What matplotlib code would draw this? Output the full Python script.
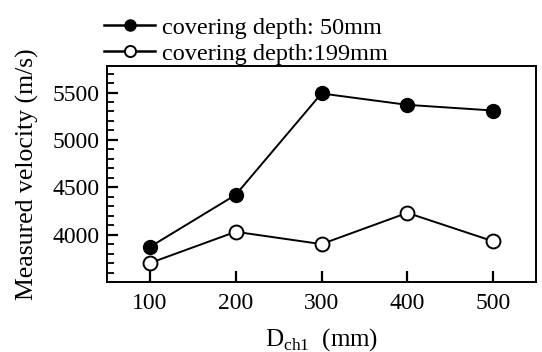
import matplotlib
matplotlib.use('Agg')
import matplotlib.pyplot as plt
from matplotlib.ticker import MultipleLocator

plt.rcParams['font.family'] = 'Liberation Serif'
plt.rcParams['mathtext.fontset'] = 'custom'
plt.rcParams['mathtext.rm'] = 'Liberation Serif'

d_ch1 = [100, 200, 300, 400, 500]
v_50mm = [3870, 4420, 5490, 5370, 5310]
v_199mm = [3700, 4030, 3900, 4230, 3930]

fig = plt.figure(figsize=(5.42, 3.52), dpi=100)
ax = fig.add_axes([107/542, 1 - 282/352, (536-107)/542, (282-66)/352])

ax.plot(d_ch1, v_50mm, '-o', color='black', mfc='black', mec='black',
        ms=10, lw=1.4, label='covering depth: 50mm')
ax.plot(d_ch1, v_199mm, '-o', color='black', mfc='white', mec='black',
        ms=10, mew=1.4, lw=1.4, label='covering depth:199mm')

ax.set_xlim(50, 550)
ax.set_ylim(3500, 5780)
ax.set_xticks(d_ch1)
ax.yaxis.set_major_locator(MultipleLocator(500))
ax.yaxis.set_minor_locator(MultipleLocator(100))
ax.set_yticks([4000, 4500, 5000, 5500])
ax.tick_params(axis='both', which='both', direction='in', labelsize=17,
               top=False, right=False)
ax.tick_params(axis='both', which='major', length=8, width=1.6, pad=5)
ax.tick_params(axis='x', which='major', pad=8)
ax.tick_params(axis='y', which='minor', length=5, width=1.3)
for s in ax.spines.values():
    s.set_linewidth(1.4)

ax.set_xlabel(r'D$_{\rm ch1}$  (mm)', fontsize=18, labelpad=9)
ax.set_ylabel('Measured velocity (m/s)', fontsize=18.5, labelpad=10)

leg = ax.legend(loc='lower left', bbox_to_anchor=(-0.035, 0.95), frameon=False,
                fontsize=17.5, handlelength=2.1, handletextpad=0.3,
                labelspacing=0.15, borderpad=0.0, markerscale=0.8)
for h in leg.get_lines():
    h.set_linewidth(1.8)

fig.savefig('out.png', dpi=100)
